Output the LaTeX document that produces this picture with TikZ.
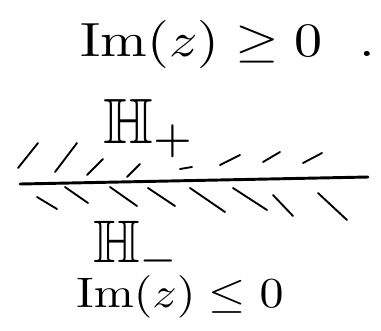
\documentclass[tikz,border=0pt]{standalone}
\usepackage{amsmath}
\usepackage{amssymb}

\tikzset{
  hatch/.style={line width=1.4pt, line cap=round},
  label/.style={inner sep=0pt, outer sep=0pt}
}

\begin{document}
\begin{tikzpicture}[x=0.75pt, y=-0.75pt]

    \useasboundingbox (0,0) rectangle (381,330);

        % Upper condition
        \node[label, xscale=4.2, yscale=3.6] (upper) at (228,44) {$\operatorname{Im}(z) \geq 0$ \ .};

        % Real axis
        \coordinate (west) at (20,184);
        \coordinate (east) at (368,177);
        \draw[line width=2.2pt, line cap=round] (west) -- (east);

        % Hatching above the axis
        \foreach \xa/\ya/\xb/\yb in {18/168/38/143, 55/172/77/143, 87/175/103/159,
                                    127/177/140/164, 180/169/192/167, 220/165/240/155,
                                    263/162/280/152, 303/163/322/153}
            \draw[hatch] (\xa,\ya) -- (\xb,\yb);

        % Hatching below the axis
        \foreach \xa/\ya/\xb/\yb in {37/197/57/209, 65/187/88/203, 110/187/137/206,
                                    148/188/175/206, 190/188/225/212, 233/188/267/210,
                                    273/195/293/216, 318/193/347/220}
            \draw[hatch] (\xa,\ya) -- (\xb,\yb);

        % Half planes
        \node[label, anchor=base west, scale=4.8] (hplus) at (103,143) {$\mathbb{H}_+$};
        \node[label, anchor=base west, scale=4.5] (hminus) at (93,262) {$\mathbb{H}_-$};

        % Lower condition
        \node[label, xscale=3.6, yscale=3.2] (lower) at (180,297) {$\operatorname{Im}(z) \leq 0$};

\end{tikzpicture}
\end{document}
